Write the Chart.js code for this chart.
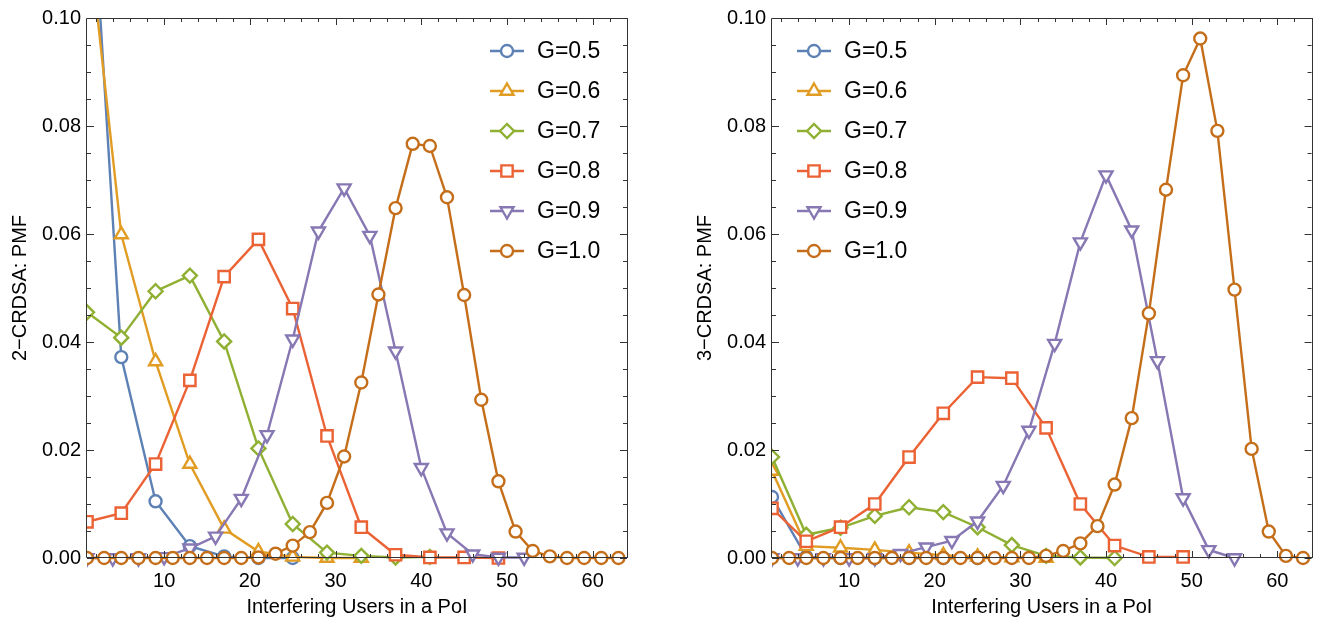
<!DOCTYPE html>
<html>
<head>
<meta charset="utf-8">
<script src="https://cdn.jsdelivr.net/npm/chart.js@4.4.1/dist/chart.umd.min.js"></script>
<style>
  html, body { margin: 0; padding: 0; background: #fff; }
  #wrap { position: relative; width: 1322px; height: 625px; overflow: hidden; }
  .panel { position: absolute; top: 0; }
</style>
</head>
<body>
<div id="wrap">
  <canvas id="chartLeft" class="panel" style="left:0px" width="661" height="625"></canvas>
  <canvas id="chartRight" class="panel" style="left:685px" width="637" height="625"></canvas>
</div>
<script>
// x positions of the samples (interfering users)
const xStep4 = [1, 5, 9, 13, 17, 21, 25, 29, 33, 37, 41, 45, 49];
const xStep3 = [1, 4, 7, 10, 13, 16, 19, 22, 25, 28, 31, 34, 37, 40, 43, 46, 49, 52, 55];
const xStep2 = [1, 3, 5, 7, 9, 11, 13, 15, 17, 19, 21, 23, 25, 27, 29, 31,
                33, 35, 37, 39, 41, 43, 45, 47, 49, 51, 53, 55, 57, 59, 61, 63];

const seriesLabels = ['G=0.5', 'G=0.6', 'G=0.7', 'G=0.8', 'G=0.9', 'G=1.0'];

// 2-CRDSA PMF values
const crdsa2_g05 = [0.140, 0.0372, 0.0105, 0.0022, 0.0003, 0, 0];
const crdsa2_g06 = [0.118, 0.0599, 0.0364, 0.0174, 0.0054, 0.0012, 0.0002, 0, 0];
const crdsa2_g07 = [0.0455, 0.0408, 0.0494, 0.0523, 0.0401, 0.0203, 0.0063, 0.0010, 0.0004, 0.0001, 0.0002];
const crdsa2_g08 = [0.0067, 0.0083, 0.0174, 0.0329, 0.0521, 0.0590, 0.0462, 0.0226, 0.0057, 0.0006, 0.0001, 0.0001, 0];
const crdsa2_g09 = [0, 0, 0, 0.0002, 0.0018, 0.0040, 0.0110, 0.0228, 0.0405, 0.0605, 0.0685, 0.0597,
                    0.0383, 0.0167, 0.0046, 0.0007, 0.0001, 0.0001];
const crdsa2_g10 = [0, 0, 0, 0, 0, 0, 0, 0, 0, 0, 0.0001, 0.0008, 0.0023, 0.0048, 0.0102, 0.0188,
                    0.0325, 0.0488, 0.0648, 0.0767, 0.0763, 0.0668, 0.0487, 0.0293, 0.0142, 0.0049,
                    0.0013, 0.0003, 0, 0, 0, 0];

// 3-CRDSA PMF values
const crdsa3_g05 = [0.0113, 0.0002, 0, 0, 0, 0, 0];
const crdsa3_g06 = [0.0161, 0.0022, 0.0019, 0.0015, 0.0010, 0.0005, 0.0002, 0.0001, 0];
const crdsa3_g07 = [0.0187, 0.0043, 0.0056, 0.0078, 0.0094, 0.0085, 0.0057, 0.0024, 0.0004, 0.0001, 0];
const crdsa3_g08 = [0.0092, 0.0031, 0.0057, 0.0100, 0.0187, 0.0268, 0.0335, 0.0333, 0.0241, 0.0100, 0.0023, 0.0002, 0.0002];
const crdsa3_g09 = [0, 0, 0, 0, 0, 0.0008, 0.0020, 0.0032, 0.0068, 0.0134, 0.0236, 0.0397, 0.0585,
                    0.0709, 0.0607, 0.0365, 0.0111, 0.0015, 0];
const crdsa3_g10 = [0, 0, 0, 0, 0, 0, 0, 0, 0, 0, 0, 0, 0, 0, 0, 0, 0.0004, 0.0013, 0.0027, 0.0059,
                    0.0136, 0.0259, 0.0453, 0.0682, 0.0894, 0.0962, 0.0791, 0.0497, 0.0202, 0.0049,
                    0.0004, 0];

// axis ticks
const xMajorTicks = [10, 20, 30, 40, 50, 60];
const xMinorTicks = [2, 4, 6, 8, 12, 14, 16, 18, 22, 24, 26, 28, 32, 34, 36, 38, 42, 44, 46, 48,
                     52, 54, 56, 58, 62, 64];
const yMajorTicks = [0, 0.02, 0.04, 0.06, 0.08, 0.10];
const yMinorTicks = [0.005, 0.01, 0.015, 0.025, 0.03, 0.035, 0.045, 0.05, 0.055,
                     0.065, 0.07, 0.075, 0.085, 0.09, 0.095];

// Mathematica default palette
const colors = ['#5E81B5', '#E19C24', '#8FB032', '#EB6235', '#8778B3', '#C56E1A'];
const markers = [
    { style: 'circle', radius: 6, rotation: 0 },
    { style: 'triangle', radius: 7.5, rotation: 0 },
    { style: 'rectRot', radius: 7, rotation: 0 },
    { style: 'rect', radius: 8, rotation: 0 },
    { style: 'triangle', radius: 7.5, rotation: 180 },
    { style: 'circle', radius: 6, rotation: 0 }
];
const LINE_W = 2.4;
const FONT = '"Liberation Sans", Arial, Helvetica, sans-serif';

function toPoints(xs, ys) {
    return ys.map((v, i) => ({ x: xs[i], y: v }));
}

function buildDatasets(series) {
    return series.map((s, i) => ({
        label: seriesLabels[i],
        data: toPoints(s.x, s.y),
        borderColor: colors[i],
        backgroundColor: '#ffffff',
        borderWidth: LINE_W,
        pointStyle: markers[i].style,
        pointRadius: markers[i].radius,
        pointRotation: markers[i].rotation,
        pointBorderWidth: LINE_W,
        pointBackgroundColor: '#ffffff',
        pointBorderColor: colors[i],
        pointHoverRadius: markers[i].radius,
        tension: 0,
        order: 6 - i,
        clip: { left: 0, top: 0, right: 0, bottom: 12 }
    }));
}

// frame with inward ticks on all four sides
const framePlugin = {
    id: 'frameTicks',
    afterDatasetsDraw(chart) {
        const ctx = chart.ctx;
        const a = chart.chartArea;
        const xs = chart.scales.x, ys = chart.scales.y;
        ctx.save();
        ctx.strokeStyle = '#333';
        ctx.lineWidth = 1;
        ctx.beginPath();
        ctx.rect(Math.round(a.left) - 0.5, Math.round(a.top) + 0.5,
                 Math.round(a.right - a.left) + 1, Math.round(a.bottom - a.top) - 1);
        ctx.stroke();
        const tick = (len, vals, axis) => {
            vals.forEach(v => {
                if (axis === 'x') {
                    const px = Math.round(xs.getPixelForValue(v)) + 0.5;
                    ctx.moveTo(px, a.bottom); ctx.lineTo(px, a.bottom - len);
                    ctx.moveTo(px, a.top); ctx.lineTo(px, a.top + len);
                } else {
                    const py = Math.round(ys.getPixelForValue(v)) + 0.5;
                    ctx.moveTo(a.left, py); ctx.lineTo(a.left + len, py);
                    ctx.moveTo(a.right, py); ctx.lineTo(a.right - len, py);
                }
            });
        };
        ctx.beginPath();
        tick(7, xMajorTicks, 'x');
        tick(4, xMinorTicks, 'x');
        tick(7, yMajorTicks, 'y');
        tick(4, yMinorTicks, 'y');
        ctx.stroke();
        ctx.restore();
    }
};

// legend drawn inside the plot area
const insideLegend = {
    id: 'insideLegend',
    afterDraw(chart, args, opts) {
        const ctx = chart.ctx;
        const a = chart.chartArea;
        const x0 = a.left + opts.offsetX;
        ctx.save();
        chart.data.datasets.forEach((ds, i) => {
            const y = opts.top + i * opts.rowGap;
            ctx.strokeStyle = ds.borderColor;
            ctx.lineWidth = LINE_W;
            ctx.beginPath();
            ctx.moveTo(x0, y);
            ctx.lineTo(x0 + 34, y);
            ctx.stroke();
            ctx.fillStyle = '#ffffff';
            Chart.helpers.drawPoint(ctx, {
                pointStyle: ds.pointStyle,
                radius: ds.pointRadius,
                rotation: ds.pointRotation,
                borderWidth: LINE_W
            }, x0 + 17, y);
            ctx.fillStyle = '#000';
            ctx.font = '23px ' + FONT;
            ctx.textAlign = 'left';
            ctx.textBaseline = 'middle';
            ctx.fillText(ds.label, x0 + 47, y + 1);
        });
        ctx.restore();
    }
};

function renderPanel(canvasId, yTitle, series, legendOffsetX, padRight) {
    const ctx = document.getElementById(canvasId);
    return new Chart(ctx, {
        type: 'line',
        data: { datasets: buildDatasets(series) },
        plugins: [framePlugin, insideLegend],
        options: {
            responsive: false,
            animation: false,
            events: [],
            layout: { padding: { left: 0, right: padRight, top: 17, bottom: 0 } },
            plugins: {
                legend: { display: false },
                tooltip: { enabled: false },
                insideLegend: { offsetX: legendOffsetX, top: 51, rowGap: 40 }
            },
            scales: {
                x: {
                    type: 'linear',
                    min: 1,
                    max: 64,
                    grid: { display: false },
                    border: { display: false },
                    afterBuildTicks: (scale) => { scale.ticks = xMajorTicks.map(v => ({ value: v })); },
                    afterFit: (scale) => { scale.height = 67; },
                    ticks: {
                        padding: 3,
                        color: '#000',
                        font: { family: FONT, size: 20 },
                        maxRotation: 0,
                        callback: (v) => String(v)
                    },
                    title: {
                        display: true,
                        text: 'Interfering Users in a PoI',
                        color: '#000',
                        font: { family: FONT, size: 20 },
                        padding: { top: 0, bottom: 6 }
                    }
                },
                y: {
                    type: 'linear',
                    min: 0,
                    max: 0.1,
                    grid: { display: false, drawTicks: false },
                    border: { display: false },
                    afterBuildTicks: (scale) => { scale.ticks = yMajorTicks.map(v => ({ value: v })); },
                    afterFit: (scale) => { scale.width = 87; },
                    ticks: {
                        padding: 6,
                        color: '#000',
                        font: { family: FONT, size: 20 },
                        callback: (v) => Number(v).toFixed(2)
                    },
                    title: {
                        display: true,
                        text: yTitle,
                        color: '#000',
                        font: { family: FONT, size: 20 },
                        padding: { top: 8, bottom: 0 }
                    }
                }
            }
        }
    });
}

try {
    renderPanel('chartLeft', '2\u2212CRDSA: PMF', [
        { x: xStep4, y: crdsa2_g05 },
        { x: xStep4, y: crdsa2_g06 },
        { x: xStep4, y: crdsa2_g07 },
        { x: xStep4, y: crdsa2_g08 },
        { x: xStep3, y: crdsa2_g09 },
        { x: xStep2, y: crdsa2_g10 }
    ], 403, 34);

    renderPanel('chartRight', '3\u2212CRDSA: PMF', [
        { x: xStep4, y: crdsa3_g05 },
        { x: xStep4, y: crdsa3_g06 },
        { x: xStep4, y: crdsa3_g07 },
        { x: xStep4, y: crdsa3_g08 },
        { x: xStep3, y: crdsa3_g09 },
        { x: xStep2, y: crdsa3_g10 }
    ], 25, 10);
} catch (error) {
    console.error('Error rendering charts:', error);
}
</script>
</body>
</html>
